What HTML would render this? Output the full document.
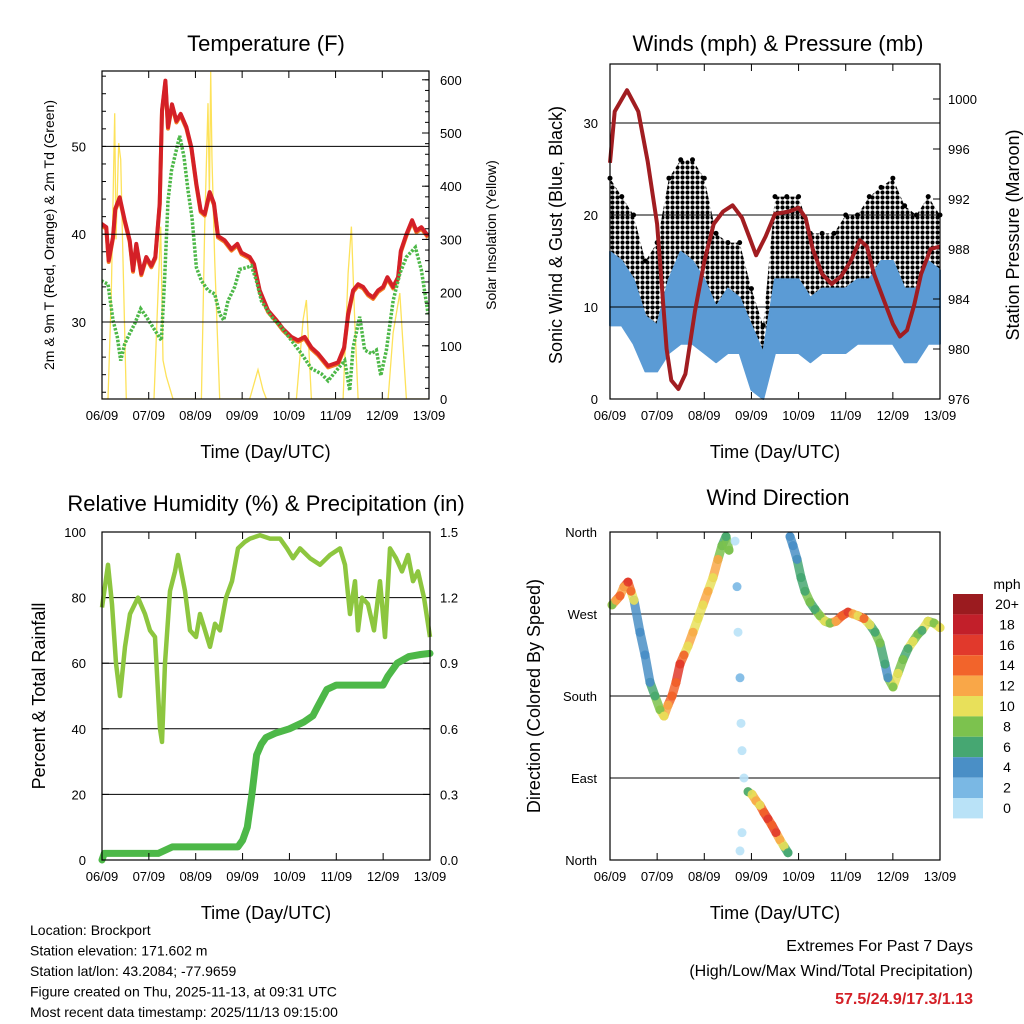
<!DOCTYPE html>
<html><head><meta charset="utf-8"><style>
html,body{margin:0;padding:0;background:#fff;}
svg{display:block;font-family:"Liberation Sans",sans-serif;}
</style></head><body>
<svg id="c" width="1024" height="1024" viewBox="0 0 1024 1024">
<defs>
<pattern id="dots" width="5" height="5" patternUnits="userSpaceOnUse"><circle cx="2.5" cy="2.5" r="2.1" fill="#000"/></pattern>
<clipPath id="c1"><rect x="102" y="71" width="327" height="328"/></clipPath>
</defs>
</svg>
<script>
// ---------- DATA ----------
const dayLabels=["06/09","07/09","08/09","09/09","10/09","11/09","12/09","13/09"];
const tempZx=[20,35,42,55,62,75,90,105,115,125,140,155,170,182,195,202,212,220,232,245,258,275,290,305,318,330,345,358,370,390,410,428,440,465,478,495,520,545,565,590,610,630,650,670,700,730,748,760,775,790,805,820,835,850,865,878,895,910,918,935,952,965,980,1000];
const tempF=[41.2,40.8,37,39.7,42.9,44.2,41.6,39.3,35.9,38.9,35.5,37.4,36.4,37.4,43.5,54.1,57.5,52.2,54.8,52.9,53.7,52.2,49.9,45.7,42.7,42.3,44.8,43.5,39.8,39.3,38.3,38.9,37.9,37.4,36.6,33.6,31.3,30.2,29.2,28.3,27.9,28.3,27.1,26.4,25.0,25.4,27.1,30.9,33.6,34.3,34.0,33.2,32.8,33.6,34.0,35.1,34.0,35.1,38.1,40.0,41.6,40.4,40.8,39.8];
const dewZx=[20,40,55,68,78,90,105,120,138,155,175,200,210,220,230,240,255,268,280,292,305,320,340,360,375,387,400,420,435,455,470,485,500,530,560,590,620,650,680,700,730,750,765,775,795,810,830,845,858,875,895,915,935,962,980,1000];
const dewF=[34.7,34.3,30.2,28.3,25.6,27.5,28.7,29.8,31.5,30.6,29.4,27.9,35.1,43.8,47.2,48.8,51.2,48.8,45.0,41.9,36.2,34.7,33.6,33.2,30.9,30.2,32.4,34.0,36.0,36.2,36.4,34.7,32.4,30.6,29.4,27.9,26.4,24.7,24.1,23.3,24.7,25.6,22.2,27.1,30.6,26.8,26.4,26.8,23.9,26.8,32.4,35.5,37.4,38.5,35.9,30.9];
const solarZx=[22,40,50,60,64,68,72,78,85,95,178,190,198,205,215,235,320,330,340,344,348,352,360,375,465,490,505,515,605,625,635,650,745,760,770,780,790,880,895,915,935,1000];
const solarW=[0,0,198,537,300,387,481,450,261,0,0,198,324,73,42,0,0,324,556,380,615,450,261,0,0,55,17,0,0,149,186,0,0,236,324,149,0,0,124,199,0,0];
const gustHi=[24,22,20,15,17,24,26,26,24,18,17,17,12,8,22,22,22,18,18,18,20,20,22,23,24,21,20,22,20];
const gustLo=[10,11,9,5,5,8,12,10,8,6,7,7,2,0,9,9,8,6,7,7,7,9,9,10,10,8,8,10,10];
const windHi=[16,15,13,9,8,13,16,15,13,10,12,11,8,5,13,13,13,11,12,12,12,13,13,15,15,12,12,15,14];
const windLo=[8,8,6,3,3,5,6,6,5,4,5,5,1,0,5,5,5,4,5,5,5,6,6,6,6,4,4,6,6];
const presT=[0,0.1,0.36,0.6,0.8,1.0,1.1,1.2,1.3,1.45,1.6,1.8,2.0,2.2,2.4,2.6,2.8,2.95,3.1,3.3,3.5,3.8,4.0,4.15,4.3,4.5,4.7,4.9,5.1,5.3,5.45,5.6,5.8,6.0,6.15,6.3,6.45,6.6,6.8,7.0];
const presMb=[994.9,999,1000.7,999,995,990,985,980,977.5,976.8,978,983,987,990,991,991.5,990.5,989,987.5,989,990.8,991,991.3,990.5,988,986,985.2,985.8,987,988.7,988.2,986,984,982,981,981.5,983.5,986,988,988.2];
const rhX=[102,108,112,116,120,125,130,138,145,150,155,160,162,165,170,175,178,185,190,196,200,205,210,215,220,226,232,238,245,250,260,270,280,287,293,300,310,320,330,340,345,350,355,358,362,368,374,380,385,390,396,402,408,413,418,424,430];
const rhPct=[77,90,78,60,50,65,75,80,75,70,68,40,36,60,82,88,93,82,70,68,75,70,65,72,70,80,85,95,97,98,99,98,98,95,92,95,92,90,93,95,90,75,85,70,80,78,70,85,68,95,92,88,93,85,88,80,68];
const prT=[0,0.05,1.2,1.5,2.9,3.0,3.1,3.2,3.3,3.4,3.5,3.7,4.0,4.3,4.5,4.6,4.8,5.0,6.0,6.1,6.3,6.55,6.8,7.0];
const prIn=[0,0.03,0.03,0.06,0.06,0.09,0.15,0.3,0.48,0.53,0.56,0.58,0.6,0.63,0.66,0.7,0.78,0.8,0.8,0.84,0.9,0.93,0.94,0.945];
const wdX=[612,616,620,624,628,631,634,640,645,650,655,660,664,668,672,676,680,684,688,693,698,703,708,713,718,722,726,729,735,737,738,740,741,742,744,742,740,748,752,756,760,764,768,772,776,780,784,788,790,793,797,801,805,810,815,820,825,830,836,842,848,853,858,864,870,875,880,885,888,893,898,903,908,913,918,922,928,934,940];
const wdDeg=[280,285,290,300,305,295,285,250,225,195,180,165,158,170,180,195,215,225,235,250,265,280,295,310,330,345,355,340,350,300,250,200,150,120,90,30,10,75,72,65,60,52,45,38,30,22,15,8,355,345,330,310,295,283,275,268,262,260,262,268,272,270,268,265,258,250,238,215,200,190,205,220,232,240,248,252,262,260,255];
const wdSpd=[8,12,14,12,16,14,10,4,4,4,6,8,10,12,14,14,16,14,10,12,10,10,12,10,12,8,6,8,1,2,1,2,1,1,0,1,0,6,10,12,10,14,16,14,16,12,10,6,4,4,4,6,6,8,6,8,10,8,12,14,16,12,10,14,10,6,8,6,4,8,10,8,6,10,8,6,10,8,10];
const cbLabels=["20+","18","16","14","12","10","8","6","4","2","0"];
const cbColors=["#9b1b1f","#c21f2a","#e1392c","#f2642b","#f9a748","#e8e05a","#7cc24e","#46a772","#4a8fc6","#7ab8e4","#b9e2f7"];

// ---------- HELPERS ----------
const NS="http://www.w3.org/2000/svg";
const svg=document.getElementById('c');
function el(tag,attrs,parent){const e=document.createElementNS(NS,tag);for(const k in attrs)e.setAttribute(k,attrs[k]);(parent||svg).appendChild(e);return e;}
function txt(s,x,y,size,anchor,parent,extra){const t=el('text',Object.assign({x:x,y:y,'font-size':size,'text-anchor':anchor||'middle',fill:'#000'},extra||{}),parent);t.textContent=s;return t;}
function zxToDay(z){return (z-22)/140.1;}
function pts(xs,ys){return xs.map((v,i)=>v.toFixed(1)+','+ys[i].toFixed(1)).join(' ');}
function panel(name,L,R,T,B){
  const g=el('g',{});
  
  
  return {g,L,R,T,B,x:d=>L+d*(R-L)/7};
}
function frame(p){
  const f=el('rect',{x:p.L,y:p.T,width:p.R-p.L,height:p.B-p.T,fill:'none',stroke:'#000','stroke-width':1.2},p.g);
  
  
  for(let d=0;d<=7;d++){
    const X=p.x(d);
    el('line',{x1:X,x2:X,y1:p.B,y2:p.B-7,stroke:'#000'},p.g);
    el('line',{x1:X,x2:X,y1:p.T,y2:p.T+7,stroke:'#000'},p.g);
    const t=txt(dayLabels[d],X,p.B+21,13,'middle',p.g);
    
    
  }
  const xt=txt('Time (Day/UTC)',(p.L+p.R)/2,p.B+59,18,'middle',p.g);
  
  
}
function hline(p,Y){el('line',{x1:p.L,x2:p.R,y1:Y,y2:Y,stroke:'#000','stroke-width':1},p.g);}
function rotText(s,x,y,size,parent,name){const t=txt(s,x,y,size,'middle',parent,{transform:`rotate(-90 ${x} ${y})`});return t;}

// ---------- PANEL 1: Temperature ----------
{
const p=panel('temperature-panel',102,429,71,399);
const yT=v=>322-(v-30)*8.78;
const yS=v=>399-v*0.532;
const tt=txt('Temperature (F)',266,51,22,'middle',p.g);
const gg=el('g',{'clip-path':'url(#c1)'},p.g);
const sol=el('polyline',{points:pts(solarZx.map(z=>p.x(zxToDay(z))),solarW.map(yS)),fill:'none',stroke:'#fde25a','stroke-width':1.3},gg);

[30,40,50].forEach(v=>{hline(p,yT(v));const t=txt(String(v),86,yT(v)+5,13,'end',p.g);});
for(let v=0;v<=600;v+=100){const Y=yS(v);el('line',{x1:p.R,x2:p.R-7,y1:Y,y2:Y,stroke:'#000'},p.g);const t=txt(String(v),440,Y+5,13,'start',p.g);}
for(let v=22;v<=58;v+=2){el('line',{x1:p.L,x2:p.L+4,y1:yT(v),y2:yT(v),stroke:'#000'},p.g);}
for(let v=0;v<=600;v+=20){el('line',{x1:p.R,x2:p.R-4,y1:yS(v),y2:yS(v),stroke:'#000'},p.g);}
const xsT=tempZx.map(z=>p.x(zxToDay(z)));
const o=el('polyline',{points:pts(xsT,tempF.map(v=>yT(v)+1.5)),fill:'none',stroke:'#f47c20','stroke-width':4,'stroke-linejoin':'round'},gg);

const r=el('polyline',{points:pts(xsT,tempF.map(yT)),fill:'none',stroke:'#d42027','stroke-width':4,'stroke-linejoin':'round'},gg);

const d=el('polyline',{points:pts(dewZx.map(z=>p.x(zxToDay(z))),dewF.map(yT)),fill:'none',stroke:'#4db848','stroke-width':3.5,'stroke-dasharray':'2.5 1.5'},gg);

frame(p);
rotText('2m & 9m T (Red, Orange) & 2m Td (Green)',54,235,14,p.g,'left-axis-title');
rotText('Solar Insolation (Yellow)',496,235,14,p.g,'right-axis-title');
}

// ---------- PANEL 2: Winds ----------
{
const p=panel('winds-panel',610,940,64,399);
const yW=v=>399-v*9.2;
const yP=v=>399-(v-976)*12.5;
const tt=txt('Winds (mph) & Pressure (mb)',778,51,22,'middle',p.g);
const ts=gustHi.map((_,i)=>i*0.25);
const xs=ts.map(p.x);
const gp=el('polygon',{points:pts(xs.concat(xs.slice().reverse()),gustHi.map(yW).concat(gustLo.map(yW).reverse())),fill:'url(#dots)',stroke:'none'},p.g);

gustHi.forEach((v,i)=>{const c=el('circle',{cx:xs[i],cy:yW(v),r:2.5,fill:'#000'},p.g);});
const wp=el('polygon',{points:pts(xs.concat(xs.slice().reverse()),windHi.map(yW).concat(windLo.map(yW).reverse())),fill:'#5b9bd5',stroke:'#5b9bd5','stroke-width':2,'stroke-linejoin':'round'},p.g);

[10,20,30].forEach(v=>hline(p,yW(v)));
[0,10,20,30].forEach(v=>{el('line',{x1:p.L,x2:p.L+7,y1:yW(v),y2:yW(v),stroke:'#000'},p.g);const t=txt(String(v),598,yW(v)+5,13,'end',p.g);});
for(let v=976;v<=1000;v+=4){const Y=yP(v);el('line',{x1:p.R,x2:p.R-7,y1:Y,y2:Y,stroke:'#000'},p.g);const t=txt(String(v),948,Y+5,13,'start',p.g);}
const pl=el('polyline',{points:pts(presT.map(p.x),presMb.map(yP)),fill:'none',stroke:'#a11d21','stroke-width':4,'stroke-linejoin':'round'},p.g);

frame(p);
rotText('Sonic Wind & Gust (Blue, Black)',562,235,18,p.g,'left-axis-title');
rotText('Station Pressure (Maroon)',1019,235,18,p.g,'right-axis-title');
}

// ---------- PANEL 3: RH & Precip ----------
{
const p=panel('humidity-precip-panel',102,430,532,860);
const yR=v=>860-v*3.28;
const yIn=v=>860-v/1.5*328;
const tt=txt('Relative Humidity (%) & Precipitation (in)',266,511,22,'middle',p.g);
[20,40,60,80].forEach(v=>hline(p,yR(v)));
[0,20,40,60,80,100].forEach(v=>{el('line',{x1:p.L,x2:p.L+7,y1:yR(v),y2:yR(v),stroke:'#000'},p.g);const t=txt(String(v),86,yR(v)+5,13,'end',p.g);});
["0.0","0.3","0.6","0.9","1.2","1.5"].forEach(s=>{const Y=yIn(parseFloat(s));el('line',{x1:p.R,x2:p.R-7,y1:Y,y2:Y,stroke:'#000'},p.g);const t=txt(s,440,Y+5,13,'start',p.g);});
const rl=el('polyline',{points:pts(rhX.map(x=>p.x((x-102)/46.86)),rhPct.map(yR)),fill:'none',stroke:'#8dc63f','stroke-width':4.5,'stroke-linejoin':'round'},p.g);

const pr=el('polyline',{points:pts(prT.map(p.x),prIn.map(yIn)),fill:'none',stroke:'#4db848','stroke-width':7,'stroke-linejoin':'round','stroke-linecap':'round'},p.g);

frame(p);
rotText('Percent & Total Rainfall',45,696,18,p.g,'left-axis-title');
}

// ---------- PANEL 4: Wind direction ----------
{
const p=panel('wind-direction-panel',610,940,532,860);
const yD=v=>860-v/360*328;
const tt=txt('Wind Direction',778,505,22,'middle',p.g);
const dl=["North","East","South","West","North"];
[0,90,180,270,360].forEach((v,i)=>{if(i>0&&i<4)hline(p,yD(v));el('line',{x1:p.L,x2:p.L+7,y1:yD(v),y2:yD(v),stroke:'#000'},p.g);const t=txt(dl[i],597,yD(v)+5,13,'end',p.g);});
function col(s){const i=Math.min(10,Math.floor(s/2));return cbColors[10-i];}
const X=wdX.map(x=>p.x((x-610)/47.14)), Y=wdDeg.map(yD);
for(let i=1;i<X.length;i++){
  const dx=X[i]-X[i-1], dy=Y[i]-Y[i-1];
  if(Math.hypot(dx,dy)<35 && wdSpd[i]>2 && wdSpd[i-1]>2){
    const s=el('line',{x1:X[i-1],y1:Y[i-1],x2:X[i],y2:Y[i],stroke:col(wdSpd[i]),'stroke-width':9,'stroke-linecap':'round','stroke-opacity':0.85},p.g);
    
    
  }
}
X.forEach((x,i)=>{const c=el('circle',{cx:x,cy:Y[i],r:4.5,fill:col(wdSpd[i]),'fill-opacity':0.9},p.g);});
frame(p);
rotText('Direction (Colored By Speed)',540,696,18,p.g,'left-axis-title');
const lg=el('g',{});
txt('mph',1007,589,14,'middle',lg);
cbColors.forEach((c,i)=>{el('rect',{x:953,y:594+i*20.4,width:30,height:20.4,fill:c},lg);const t=txt(cbLabels[i],1007,609+i*20.4,14,'middle',lg);});
}

// ---------- Footer text ----------
{
const g=el('g',{});
["Location: Brockport","Station elevation: 171.602 m","Station lat/lon: 43.2084; -77.9659","Figure created on Thu, 2025-11-13, at 09:31 UTC","Most recent data timestamp: 2025/11/13 09:15:00"].forEach((s,i)=>txt(s,30,935+i*20.5,14,'start',g));
const g2=el('g',{});
txt('Extremes For Past 7 Days',973,951,16,'end',g2);
txt('(High/Low/Max Wind/Total Precipitation)',973,976,16,'end',g2);
txt('57.5/24.9/17.3/1.13',973,1004,16,'end',g2,{fill:'#d42027','font-weight':'bold'});
}
</script>
</body></html>
